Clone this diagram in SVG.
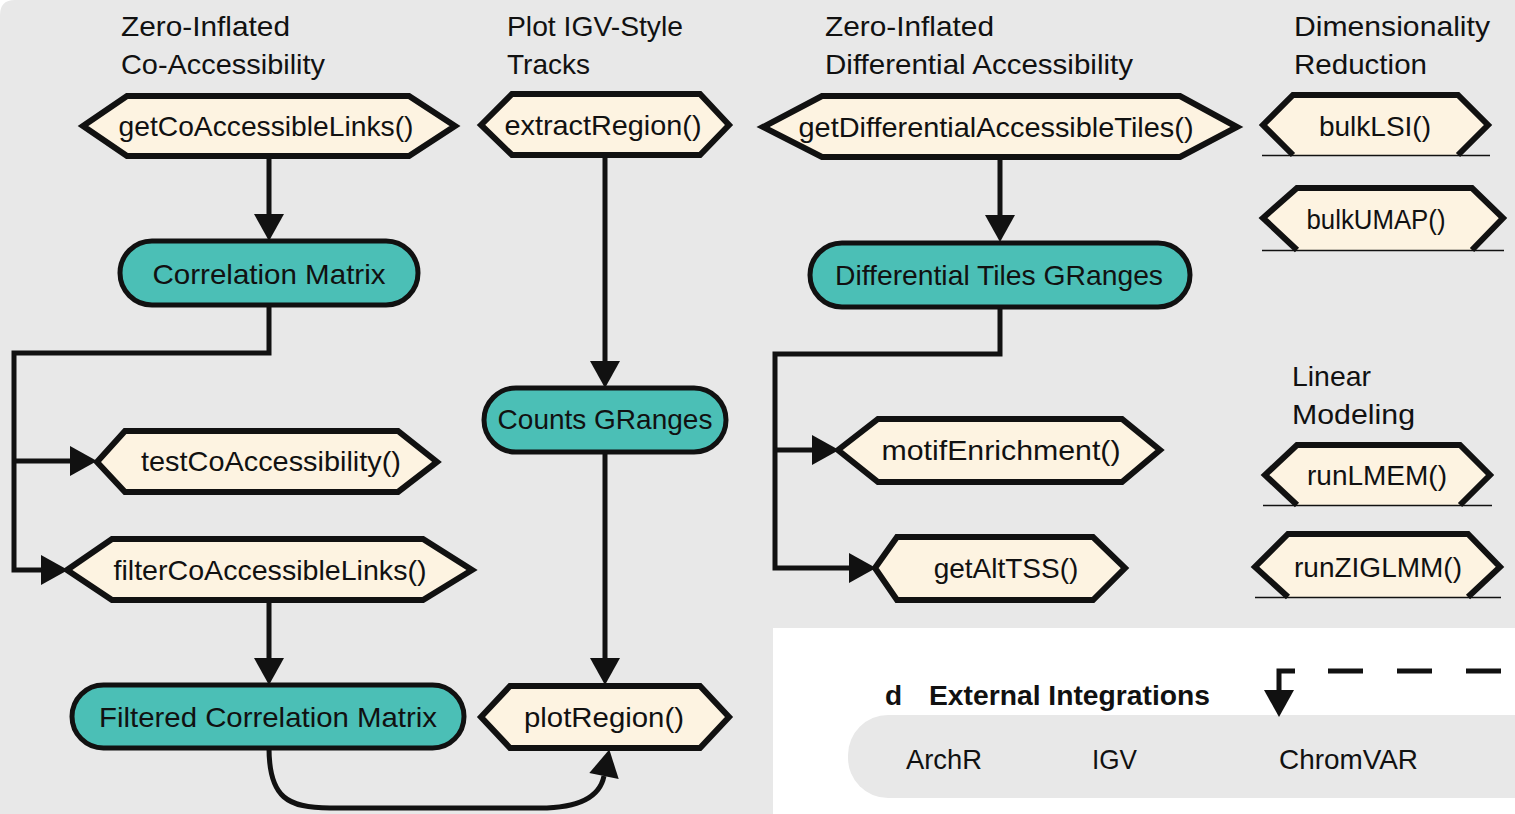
<svg xmlns="http://www.w3.org/2000/svg" width="1515" height="814" viewBox="0 0 1515 814">
<defs>
<style>
text{font-family:"Liberation Sans",Arial,sans-serif;font-size:28px;fill:#111}
.c{text-anchor:middle}
.b{font-weight:bold}
.hex{fill:#fdf3e1;stroke:#111;stroke-width:6;stroke-linejoin:miter}
.hexf{fill:#fdf3e1;stroke:none}
.hexs{fill:none;stroke:#111;stroke-width:6;stroke-linejoin:miter}
.thin{stroke:#111;stroke-width:1.5}
.pill{fill:#4bbfb6;stroke:#111;stroke-width:5}
.con{fill:none;stroke:#111;stroke-width:5}
</style>
<marker id="ah" markerUnits="userSpaceOnUse" markerWidth="28" markerHeight="30" refX="0" refY="15" orient="auto" overflow="visible">
<path d="M0,0 L27,15 L0,30 Z" fill="#111"/>
</marker>
</defs>
<rect x="0" y="0" width="1515" height="814" fill="#ffffff"/>
<path d="M15,0 H1515 V628 H773 V814 H0 V15 Q0,0 15,0 Z" fill="#e8e8e8"/>
<rect x="848" y="715" width="720" height="83" rx="40" fill="#e8e8e8"/>

<g id="titles">
<text x="121" y="36" textLength="169" lengthAdjust="spacingAndGlyphs">Zero-Inflated</text>
<text x="121" y="74" textLength="204" lengthAdjust="spacingAndGlyphs">Co-Accessibility</text>
<text x="507" y="36" textLength="176" lengthAdjust="spacingAndGlyphs">Plot IGV-Style</text>
<text x="507" y="74">Tracks</text>
<text x="825" y="36" textLength="169" lengthAdjust="spacingAndGlyphs">Zero-Inflated</text>
<text x="825" y="74" textLength="308" lengthAdjust="spacingAndGlyphs">Differential Accessibility</text>
<text x="1294" y="36" textLength="196" lengthAdjust="spacingAndGlyphs">Dimensionality</text>
<text x="1294" y="74" textLength="133" lengthAdjust="spacingAndGlyphs">Reduction</text>
<text x="1292" y="386" textLength="79" lengthAdjust="spacingAndGlyphs">Linear</text>
<text x="1292" y="424" textLength="123" lengthAdjust="spacingAndGlyphs">Modeling</text>
</g>

<g id="connectors">
<path class="con" d="M269,157 V214" marker-end="url(#ah)"/>
<path class="con" d="M269,306 V353 H14 V570 H41" marker-end="url(#ah)"/>
<path class="con" d="M14,461 H70" marker-end="url(#ah)"/>
<path class="con" d="M269,600 V658" marker-end="url(#ah)"/>
<path class="con" d="M269,748 C269,798 288,808 330,808 H540 C580,808 600,796 604,776" marker-end="url(#ah)"/>
<path class="con" d="M605,155 V361" marker-end="url(#ah)"/>
<path class="con" d="M605,452 V658" marker-end="url(#ah)"/>
<path class="con" d="M1000,157 V215" marker-end="url(#ah)"/>
<path class="con" d="M1000,307 V354 H775 V568 H849" marker-end="url(#ah)"/>
<path class="con" d="M775,450 H812" marker-end="url(#ah)"/>
<path class="con" d="M1295,671 H1279 V690" marker-end="url(#ah)"/>
<path class="con" d="M1328,671 H1515" stroke-dasharray="35 34"/>
</g>

<g id="getCoAccessibleLinks">
<polygon class="hex" points="83,126 127,96 409,96 455,126 409,156 127,156"/>
<text class="c" x="266" y="136" textLength="295" lengthAdjust="spacingAndGlyphs">getCoAccessibleLinks()</text>
</g>
<g id="correlationMatrix">
<rect class="pill" x="120" y="241" width="298" height="64" rx="32"/>
<text class="c" x="269" y="284" textLength="233" lengthAdjust="spacingAndGlyphs">Correlation Matrix</text>
</g>
<g id="testCoAccessibility">
<polygon class="hex" points="97,462 125,431 398,431 437,462 398,492 125,492"/>
<text class="c" x="271" y="471" textLength="260" lengthAdjust="spacingAndGlyphs">testCoAccessibility()</text>
</g>
<g id="filterCoAccessibleLinks">
<polygon class="hex" points="67,570 112,539 423,539 472,570 423,600 112,600"/>
<text class="c" x="270" y="580" textLength="313" lengthAdjust="spacingAndGlyphs">filterCoAccessibleLinks()</text>
</g>
<g id="filteredCorrelationMatrix">
<rect class="pill" x="72" y="685" width="392" height="63" rx="31.5"/>
<text class="c" x="268" y="727" textLength="338" lengthAdjust="spacingAndGlyphs">Filtered Correlation Matrix</text>
</g>

<g id="extractRegion">
<polygon class="hex" points="481,125 512,94 700,94 729,125 700,155 512,155"/>
<text class="c" x="603" y="135" textLength="197" lengthAdjust="spacingAndGlyphs">extractRegion()</text>
</g>
<g id="countsGRanges">
<rect class="pill" x="484" y="388" width="242" height="64" rx="32"/>
<text class="c" x="605" y="429">Counts GRanges</text>
</g>
<g id="plotRegion">
<polygon class="hex" points="481,717 510,686 700,686 729,717 700,748 510,748"/>
<text class="c" x="604" y="727" textLength="160" lengthAdjust="spacingAndGlyphs">plotRegion()</text>
</g>

<g id="getDifferentialAccessibleTiles">
<polygon class="hex" points="763,127 822,96 1180,96 1237,127 1180,157 822,157"/>
<text class="c" x="996" y="137" textLength="395" lengthAdjust="spacingAndGlyphs">getDifferentialAccessibleTiles()</text>
</g>
<g id="differentialTilesGRanges">
<rect class="pill" x="810" y="243" width="380" height="64" rx="32"/>
<text class="c" x="999" y="285" textLength="328" lengthAdjust="spacingAndGlyphs">Differential Tiles GRanges</text>
</g>
<g id="motifEnrichment">
<polygon class="hex" points="838,450 878,419 1122,419 1160,450 1122,482 878,482"/>
<text class="c" x="1001" y="460" textLength="239" lengthAdjust="spacingAndGlyphs">motifEnrichment()</text>
</g>
<g id="getAltTSS">
<polygon class="hex" points="875,568 897,537 1093,537 1125,568 1093,600 897,600"/>
<text class="c" x="1006" y="578">getAltTSS()</text>
</g>

<g id="bulkLSI">
<polygon class="hexf" points="1263,125 1293,95 1458,95 1488,125 1458,155 1293,155"/>
<polyline class="hexs" points="1293,155 1263,125 1293,95 1458,95 1488,125 1458,155"/>
<line class="thin" x1="1262" y1="155.5" x2="1490" y2="155.5"/>
<text class="c" x="1375" y="136">bulkLSI()</text>
</g>
<g id="bulkUMAP">
<polygon class="hexf" points="1263,218 1297,188 1472,188 1503,218 1472,250 1297,250"/>
<polyline class="hexs" points="1297,250 1263,218 1297,188 1472,188 1503,218 1472,250"/>
<line class="thin" x1="1262" y1="250.5" x2="1504" y2="250.5"/>
<text class="c" x="1376" y="229" textLength="139" lengthAdjust="spacingAndGlyphs">bulkUMAP()</text>
</g>
<g id="runLMEM">
<polygon class="hexf" points="1265,475 1297,445 1460,445 1490,475 1460,505 1297,505"/>
<polyline class="hexs" points="1297,505 1265,475 1297,445 1460,445 1490,475 1460,505"/>
<line class="thin" x1="1263" y1="505.5" x2="1492" y2="505.5"/>
<text class="c" x="1377" y="485">runLMEM()</text>
</g>
<g id="runZIGLMM">
<polygon class="hexf" points="1255,567 1288,534 1468,534 1500,567 1468,597 1288,597"/>
<polyline class="hexs" points="1288,597 1255,567 1288,534 1468,534 1500,567 1468,597"/>
<line class="thin" x1="1255" y1="597.5" x2="1501" y2="597.5"/>
<text class="c" x="1378" y="577">runZIGLMM()</text>
</g>

<g id="externalIntegrations">
<text class="b" x="885" y="705">d</text>
<text class="b" x="929" y="705" textLength="281" lengthAdjust="spacingAndGlyphs">External Integrations</text>
<text x="906" y="769" textLength="76" lengthAdjust="spacingAndGlyphs">ArchR</text>
<text x="1092" y="769" textLength="45" lengthAdjust="spacingAndGlyphs">IGV</text>
<text x="1279" y="769" textLength="139" lengthAdjust="spacingAndGlyphs">ChromVAR</text>
</g>
</svg>
